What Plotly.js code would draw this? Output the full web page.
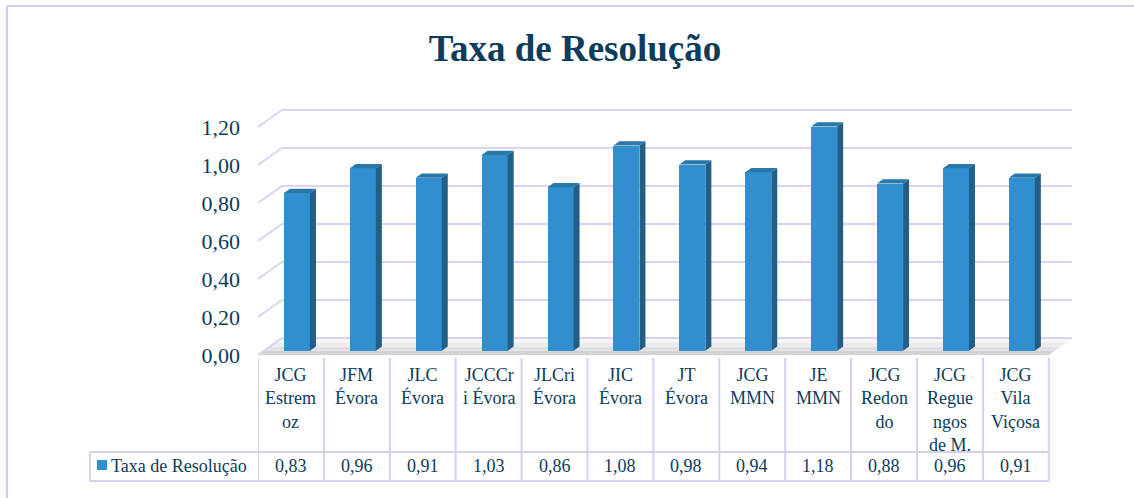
<!DOCTYPE html>
<html>
<head>
<meta charset="utf-8">
<script src="https://cdn.plot.ly/plotly-3.0.1.min.js"></script>
<style>
  body { margin: 0; background: #ffffff; }
  #chart { width: 1134px; height: 498px; }
</style>
</head>
<body>
<div id="chart"></div>
<script>
// Chart data
const categories = [
  "JCG<br>Estrem<br>oz", "JFM<br>Évora", "JLC<br>Évora", "JCCCr<br>i Évora",
  "JLCri<br>Évora", "JIC<br>Évora", "JT<br>Évora", "JCG<br>MMN",
  "JE<br>MMN", "JCG<br>Redon<br>do", "JCG<br>Regue<br>ngos<br>de M.", "JCG<br>Vila<br>Viçosa"
];
const values = [0.83, 0.96, 0.91, 1.03, 0.86, 1.08, 0.98, 0.94, 1.18, 0.88, 0.96, 0.91];
const yTicks = [0, 0.2, 0.4, 0.6, 0.8, 1.0, 1.2];
const seriesName = "Taxa de Resolução";
const chartTitle = "Taxa de Resolução";

// 3D look: depth offset of the back wall in data units
const DX = 0.364;   // categories
const DY = 0.0895;  // value units
const F = 0.25;     // where the bar front sits in depth
const D = 0.25;     // bar depth
const W = 0.395;    // bar width

const textColor = "#0d3c5c";
const gridColor = "#d8d4f2";
const fontFam = "Liberation Serif, Times New Roman, serif";

const idx = values.map((v, i) => i);
const fmt = (v) => v.toFixed(2).replace(".", ",");

// Front faces as a real bar trace
const frontTrace = {
  type: "bar",
  x: idx.map((i) => i + F * DX),
  y: values,
  base: F * DY,
  width: W,
  name: seriesName,
  marker: { color: "#318fcf", line: { width: 0 } },
  hoverinfo: "skip",
};

// Side and top faces built from the same values
const sideX = [], sideY = [], topX = [], topY = [];
values.forEach((v, i) => {
  const xl = i - W / 2 + F * DX;
  const xr = i + W / 2 + F * DX;
  const b = F * DY;
  const t = v + F * DY;
  const ddx = D * DX, ddy = D * DY;
  sideX.push(xr, xr + ddx, xr + ddx, xr, xr, null);
  sideY.push(b, b + ddy, t + ddy, t, b, null);
  topX.push(xl, xr, xr + ddx, xl + ddx, xl, null);
  topY.push(t, t, t + ddy, t + ddy, t, null);
});

const sideTrace = {
  type: "scatter", mode: "lines", x: sideX, y: sideY,
  fill: "toself", fillcolor: "#215e88", line: { width: 0 },
  hoverinfo: "skip", showlegend: false,
};
const topTrace = {
  type: "scatter", mode: "lines", x: topX, y: topY,
  fill: "toself", fillcolor: "#2a77aa", line: { width: 0 },
  hoverinfo: "skip", showlegend: false,
};

const shapes = [];
const n = categories.length;
const x0 = -0.5, x1 = n - 0.5;

// Floor, in a few bands to fake the shading
const floorColors = ["#d3d3d6", "#e0e0e3", "#ececef", "#f7f7f9"];
floorColors.forEach((c, k) => {
  const a = k / floorColors.length, b = (k + 1) / floorColors.length;
  shapes.push({
    type: "path", xref: "x", yref: "y", layer: "below",
    path: `M${x0 + a * DX},${a * DY} L${x1 + a * DX},${a * DY} L${x1 + b * DX},${b * DY} L${x0 + b * DX},${b * DY} Z`,
    fillcolor: c, line: { width: 0 },
  });
});

// Back wall gridlines and left wall diagonals
yTicks.forEach((v) => {
  shapes.push({
    type: "line", xref: "x", yref: "y", layer: "below",
    x0: x0 + DX, x1: x1 + DX, y0: v + DY, y1: v + DY,
    line: { color: gridColor, width: 2 },
  });
  shapes.push({
    type: "line", xref: "x", yref: "y", layer: "below",
    x0: x0, x1: x0 + DX, y0: v, y1: v + DY,
    line: { color: gridColor, width: 2 },
  });
});

// Data table grid (paper y: plot spans pixels 100..360)
const py = (p) => (360 - p) / 260;
const px = (p) => (p - 258) / 814;
const tableColor = "#d4d0ee";
shapes.push({ type: "line", xref: "paper", yref: "paper", x0: px(90), x1: px(1049), y0: py(452), y1: py(452), line: { color: tableColor, width: 2 } });
shapes.push({ type: "line", xref: "paper", yref: "paper", x0: px(90), x1: px(1049), y0: py(481), y1: py(481), line: { color: tableColor, width: 2 } });
shapes.push({ type: "line", xref: "paper", yref: "paper", x0: px(90), x1: px(90), y0: py(452), y1: py(481), line: { color: tableColor, width: 2 } });
for (let k = 0; k <= n; k++) {
  shapes.push({
    type: "line", xref: "x", yref: "paper",
    x0: k - 0.5, x1: k - 0.5, y0: py(358), y1: py(481),
    line: { color: tableColor, width: 2 },
  });
}
// legend key in the table
shapes.push({
  type: "rect", xref: "paper", yref: "paper",
  x0: px(97), x1: px(107), y0: py(460), y1: py(470),
  fillcolor: "#318fcf", line: { width: 0 },
});
// chart area border (only top and left show)
shapes.push({ type: "line", xref: "paper", yref: "paper", x0: px(7), x1: px(1134), y0: py(6), y1: py(6), line: { color: "#d2cef0", width: 2 } });
shapes.push({ type: "line", xref: "paper", yref: "paper", x0: px(7), x1: px(7), y0: py(6), y1: py(498), line: { color: "#d2cef0", width: 2 } });

const annotations = [];
categories.forEach((c, i) => {
  annotations.push({
    xref: "x", yref: "paper", x: i, y: py(363),
    xanchor: "center", yanchor: "top", showarrow: false,
    text: c, font: { size: 18, color: textColor, family: fontFam },
  });
  annotations.push({
    xref: "x", yref: "paper", x: i, y: py(466),
    xanchor: "center", yanchor: "middle", showarrow: false,
    text: fmt(values[i]), font: { size: 18, color: textColor, family: fontFam },
  });
});
annotations.push({
  xref: "paper", yref: "paper", x: px(109), y: py(466),
  xanchor: "left", yanchor: "middle", showarrow: false,
  text: seriesName, font: { size: 18, color: textColor, family: fontFam },
});

const layout = {
  width: 1134,
  height: 498,
  margin: { l: 258, r: 62, t: 100, b: 138, pad: 0 },
  paper_bgcolor: "#ffffff",
  plot_bgcolor: "rgba(0,0,0,0)",
  separators: ",.",
  showlegend: false,
  font: { family: fontFam, color: textColor },
  title: {
    text: "<b>" + chartTitle + "</b>",
    font: { size: 37, color: textColor, family: fontFam },
    xref: "container", x: 575 / 1134, xanchor: "center",
    yref: "container", y: 1 - 48 / 498, yanchor: "middle",
  },
  xaxis: {
    range: [-0.5, 11.852],
    showgrid: false, zeroline: false, showline: false,
    showticklabels: false, ticks: "",
  },
  yaxis: {
    range: [-0.0263, 1.342],
    tickvals: yTicks,
    tickformat: ".2f",
    showgrid: false, zeroline: false, showline: false,
    ticks: "",
    ticklabelstandoff: 17,
    tickfont: { size: 22, color: textColor, family: fontFam },
  },
  bargap: 0,
  shapes: shapes,
  annotations: annotations,
};

Plotly.newPlot("chart", [frontTrace, sideTrace, topTrace], layout, { displayModeBar: false, staticPlot: true });
</script>
</body>
</html>
